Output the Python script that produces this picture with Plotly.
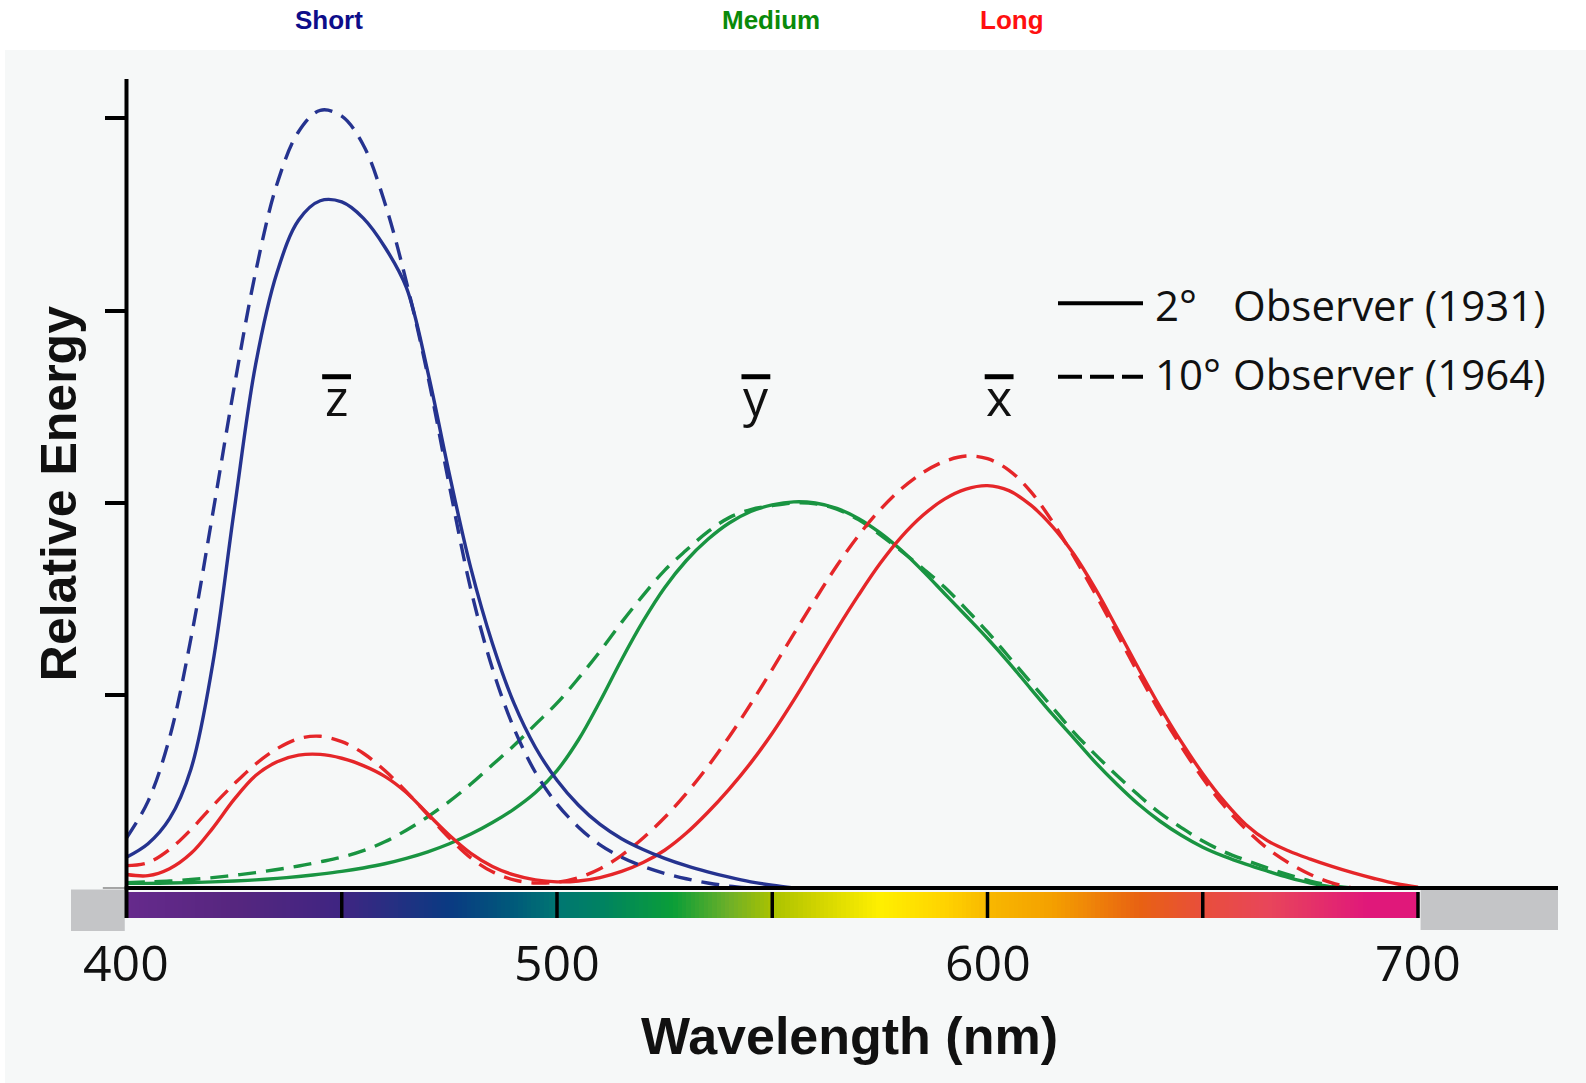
import plotly.graph_objects as go

# ---------------- data ----------------
WL = list(range(400, 705, 5))

X_2DEG = [0.035, 0.032, 0.05, 0.09, 0.155, 0.23, 0.292, 0.328, 0.345, 0.347,
          0.337, 0.318, 0.29, 0.248, 0.192, 0.137, 0.09, 0.056, 0.034, 0.021,
          0.016, 0.018, 0.027, 0.043, 0.066, 0.098, 0.142, 0.196, 0.257, 0.325,
          0.402, 0.488, 0.58, 0.672, 0.76, 0.842, 0.912, 0.968, 1.01, 1.036,
          1.045, 1.032, 0.995, 0.94, 0.868, 0.778, 0.676, 0.572, 0.472, 0.38,
          0.297, 0.225, 0.165, 0.123, 0.096, 0.075, 0.056, 0.039, 0.024, 0.011, 0.002]

X_10DEG = [0.058, 0.066, 0.1, 0.152, 0.213, 0.27, 0.322, 0.362, 0.388, 0.394,
           0.38, 0.35, 0.305, 0.25, 0.19, 0.13, 0.078, 0.042, 0.021, 0.013,
           0.015, 0.027, 0.05, 0.085, 0.13, 0.183, 0.245, 0.315, 0.393, 0.478,
           0.568, 0.66, 0.75, 0.837, 0.915, 0.982, 1.037, 1.079, 1.108, 1.122,
           1.115, 1.085, 1.03, 0.953, 0.862, 0.765, 0.662, 0.558, 0.458, 0.368,
           0.285, 0.213, 0.153, 0.103, 0.065, 0.035, 0.013, 0.0, None, None, None]

Y_2DEG = [0.012, 0.012, 0.013, 0.014, 0.016, 0.018, 0.021, 0.025, 0.03, 0.036,
          0.043, 0.052, 0.063, 0.077, 0.094, 0.115, 0.14, 0.17, 0.205, 0.248,
          0.305, 0.385, 0.485, 0.593, 0.693, 0.78, 0.85, 0.905, 0.948, 0.978,
          0.995, 1.003, 1.0, 0.986, 0.96, 0.923, 0.877, 0.823, 0.765, 0.707,
          0.648, 0.585, 0.518, 0.452, 0.39, 0.327, 0.27, 0.218, 0.174, 0.137,
          0.106, 0.082, 0.062, 0.044, 0.027, 0.013, 0.003, 0.0, None, None, None]

Y_10DEG = [0.014, 0.016, 0.018, 0.022, 0.027, 0.033, 0.04, 0.048, 0.057, 0.068,
           0.08, 0.097, 0.12, 0.15, 0.185, 0.225, 0.27, 0.32, 0.37, 0.425,
           0.48, 0.545, 0.615, 0.69, 0.76, 0.825, 0.877, 0.925, 0.962, 0.983,
           0.993, 1.0, 0.998, 0.984, 0.957, 0.918, 0.875, 0.83, 0.782, 0.725,
           0.665, 0.6, 0.535, 0.47, 0.405, 0.347, 0.293, 0.242, 0.195, 0.157,
           0.122, 0.094, 0.072, 0.052, 0.034, 0.018, 0.006, 0.0, None, None, None]

Z_2DEG = [0.08, 0.115, 0.18, 0.31, 0.58, 0.98, 1.36, 1.6, 1.735, 1.785,
          1.782, 1.74, 1.665, 1.56, 1.34, 1.075, 0.83, 0.635, 0.48, 0.365,
          0.28, 0.215, 0.165, 0.128, 0.1, 0.077, 0.058, 0.042, 0.028, 0.016,
          0.007, 0.0] + [None] * 29

Z_10DEG = [0.13, 0.225, 0.39, 0.65, 0.97, 1.3, 1.6, 1.83, 1.965, 2.02,
           2.005, 1.93, 1.78, 1.575, 1.33, 1.045, 0.775, 0.57, 0.415, 0.3,
           0.218, 0.158, 0.112, 0.08, 0.056, 0.038, 0.024, 0.013, 0.005, 0.0] + [None] * 31

Y_TICKS = [0.5, 1.0, 1.5, 2.0]
X_TICK_VALS = [400, 500, 600, 700]
X_TICK_TEXT = ["400", "500", "600", "700"]
BAND_EDGES = [450, 500, 550, 600, 650, 700]

SPEC_NM = [400, 425, 450, 475, 490, 500, 510, 527, 540, 550, 560, 575, 590, 600,
           615, 635, 650, 665, 688, 700]
SPEC_COL = ["#662a8c", "#56267f", "#3f2582", "#0a3a82", "#005a7a", "#007672",
            "#008262", "#0a9e38", "#6eb028", "#aac200", "#cfd300", "#fff000",
            "#ffd300", "#f8b800", "#f4a000", "#e86212", "#e84e3c", "#e8465a",
            "#e0187a", "#e0187a"]

CONE_LABELS = ["Short", "Medium", "Long"]
CONE_NM = [447.1, 549.6, 605.6]
CONE_COLORS = ["#0d0d8a", "#0a8a0a", "#ff1010"]

CMF_LETTERS = ["z", "y", "x"]
CMF_NM = [448.8, 546.2, 602.7]

LEGEND_DEG = ["2°", "10°"]
LEGEND_TXT = ["Observer (1931)", "Observer (1964)"]

BLUE = "#25338f"
GREEN = "#199441"
RED = "#e52629"
GRAYBLOCK = "#c4c5c7"
BG = "#f6f8f8"

# ---------------- geometry ----------------
W, H = 1586, 1083
L_PX, R_PX, T_PX, B_PX = 71, 1558, 79, 934
X_RANGE = [387.11, 732.52]
Y_RANGE = [-0.1195, 2.1013]


def px(xf):
    return (xf - L_PX) / (R_PX - L_PX)


def py(yf):
    return (B_PX - yf) / (B_PX - T_PX)


fig = go.Figure()

# spectrum bar
edges = list(range(400, 701))
fig.add_trace(go.Heatmap(
    x=edges, y=[-0.078, -0.0104],
    z=[[e + 0.5 for e in edges[:-1]]],
    zmin=400, zmax=700,
    colorscale=[[(n - 400) / 300, c] for n, c in zip(SPEC_NM, SPEC_COL)],
    showscale=False, hoverinfo="skip"))

DASH = "18px,10px"
curves = [
    (Y_2DEG, GREEN, "solid"), (Y_10DEG, GREEN, DASH),
    (X_2DEG, RED, "solid"), (X_10DEG, RED, DASH),
    (Z_2DEG, BLUE, "solid"), (Z_10DEG, BLUE, DASH),
]
for vals, col, dash in curves:
    fig.add_trace(go.Scatter(
        x=WL, y=vals, mode="lines",
        line=dict(color=col, width=3.4, dash=dash, shape="spline", smoothing=1.0),
        connectgaps=False, showlegend=False, hoverinfo="skip"))

shapes = []
# background panel
shapes.append(dict(type="rect", xref="paper", yref="paper",
                   x0=px(5), x1=px(W + 5), y0=py(H + 5), y1=py(50),
                   fillcolor=BG, line=dict(width=0), layer="below"))
# grey end blocks
shapes.append(dict(type="rect", xref="x", yref="y", x0=X_RANGE[0], x1=399.6,
                   y0=-0.112, y1=-0.004, fillcolor=GRAYBLOCK, line=dict(width=0)))
shapes.append(dict(type="rect", xref="x", yref="y", x0=700.6, x1=X_RANGE[1],
                   y0=-0.109, y1=-0.004, fillcolor=GRAYBLOCK, line=dict(width=0)))
# band separators
for b in BAND_EDGES:
    shapes.append(dict(type="line", xref="x", yref="y", x0=b, x1=b,
                       y0=-0.078, y1=-0.0104, line=dict(color="black", width=3.5)))
# thin baseline stub left of axis
shapes.append(dict(type="line", xref="x", yref="y", x0=394.5, x1=400, y0=0, y1=0,
                   line=dict(color="#8a8a8a", width=1.5)))
# axis lines
shapes.append(dict(type="line", xref="x", yref="y", x0=400, x1=400,
                   y0=-0.078, y1=Y_RANGE[1], line=dict(color="black", width=4)))
shapes.append(dict(type="line", xref="x", yref="y", x0=399.6, x1=X_RANGE[1],
                   y0=0, y1=0, line=dict(color="black", width=4)))
# overbars of the colour matching function letters
for nm in CMF_NM:
    shapes.append(dict(type="line", xref="x", yref="y", x0=nm - 3.35, x1=nm + 3.35,
                       y0=1.328, y1=1.328, line=dict(color="black", width=5)))
# legend samples
shapes.append(dict(type="line", xref="paper", yref="paper", x0=px(1058), x1=px(1143),
                   y0=py(303.3), y1=py(303.3), line=dict(color="black", width=4)))
shapes.append(dict(type="line", xref="paper", yref="paper", x0=px(1058), x1=px(1143),
                   y0=py(376.7), y1=py(376.7),
                   line=dict(color="black", width=4, dash="24px,8px")))

ann = []
TICKFONT = dict(family="Open Sans", size=50, color="#111")
for v, t in zip(X_TICK_VALS, X_TICK_TEXT):
    ann.append(dict(x=v, y=py(961.6), xref="x", yref="paper", text=t,
                    showarrow=False, xanchor="center", yanchor="middle", font=TICKFONT))
ann.append(dict(x=px(850), y=py(1036), xref="paper", yref="paper",
                text="<b>Wavelength (nm)</b>", showarrow=False,
                xanchor="center", yanchor="middle",
                font=dict(family="Liberation Sans, Arial", size=52, color="#111")))
ann.append(dict(x=px(58.6), y=py(493.6), xref="paper", yref="paper",
                text="<b>Relative Energy</b>", showarrow=False, textangle=-90,
                xanchor="center", yanchor="middle",
                font=dict(family="Liberation Sans, Arial", size=50, color="#111")))
for lab, nm, col in zip(CONE_LABELS, CONE_NM, CONE_COLORS):
    ann.append(dict(x=nm, y=py(20.3), xref="x", yref="paper", text="<b>%s</b>" % lab,
                    showarrow=False, xanchor="center", yanchor="middle",
                    font=dict(family="Liberation Sans, Arial", size=26, color=col)))
for let, nm in zip(CMF_LETTERS, CMF_NM):
    ann.append(dict(x=nm, y=1.2745, xref="x", yref="y", text=let, showarrow=False,
                    xanchor="center", yanchor="middle",
                    font=dict(family="Open Sans", size=50, color="#111")))
LEG_Y = [304.7, 373.2]
for deg, txt, yy in zip(LEGEND_DEG, LEGEND_TXT, LEG_Y):
    ann.append(dict(x=px(1153), y=py(yy), xref="paper", yref="paper", text=deg,
                    showarrow=False, xanchor="left", yanchor="middle",
                    font=dict(family="Open Sans", size=42, color="#111")))
    ann.append(dict(x=px(1231), y=py(yy), xref="paper", yref="paper", text=txt,
                    showarrow=False, xanchor="left", yanchor="middle",
                    font=dict(family="Open Sans", size=42, color="#111")))

fig.update_layout(
    width=W, height=H, autosize=False,
    margin=dict(l=L_PX, r=W - R_PX, t=T_PX, b=H - B_PX, pad=0),
    paper_bgcolor="white", plot_bgcolor="rgba(0,0,0,0)",
    font=dict(family="Open Sans"),
    shapes=shapes, annotations=ann, showlegend=False,
    xaxis=dict(range=X_RANGE, showgrid=False, zeroline=False, showline=False,
               showticklabels=False, ticks="", fixedrange=True),
    yaxis=dict(range=Y_RANGE, showgrid=False, zeroline=False, showline=False,
               showticklabels=False, ticks="outside", ticklen=22, tickwidth=4,
               tickcolor="black", tickvals=Y_TICKS, anchor="free",
               position=(126.5 - L_PX) / (R_PX - L_PX), fixedrange=True),
)

fig.write_html("out.html")
